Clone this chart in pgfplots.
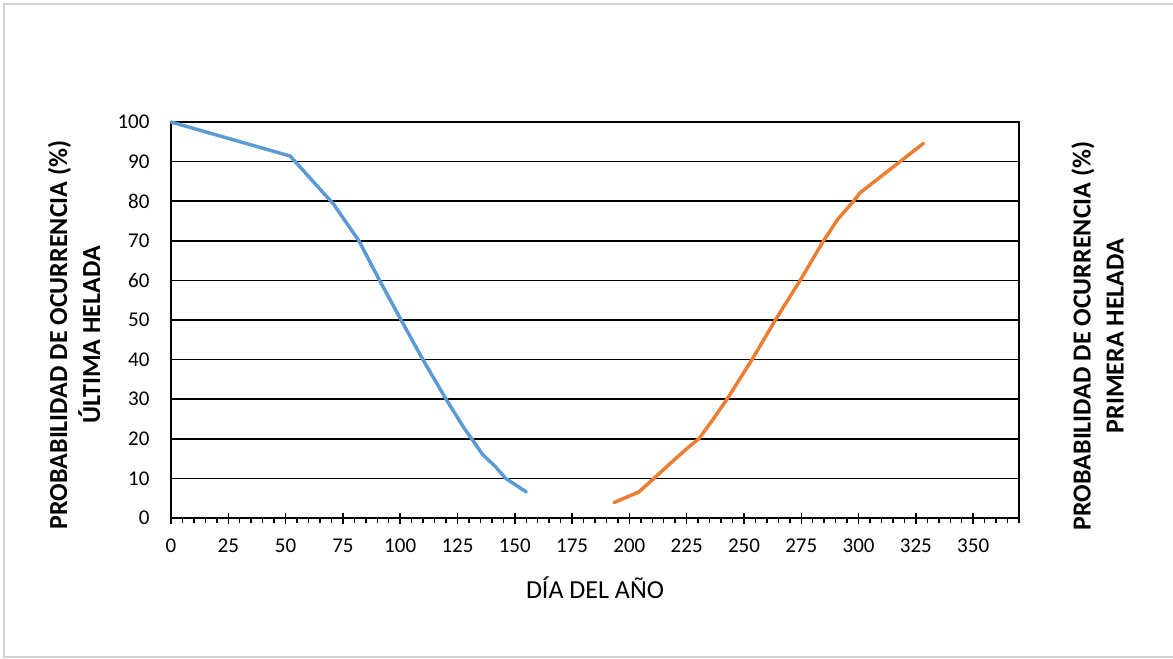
\documentclass[border=0pt]{standalone}
\usepackage{pgfplots}
\pgfplotsset{compat=1.18}
\usepackage{fontspec}
\setmainfont{Carlito}
\definecolor{cblue}{RGB}{91,155,213}
\definecolor{corange}{RGB}{237,125,49}
\begin{document}
\begin{tikzpicture}
\useasboundingbox (-128.25pt,-105pt) rectangle (751.5pt,388.5pt);
\draw[black!18, line width=1.2pt] (751.5pt,-104.25pt) -- (-125.25pt,-104.25pt) -- (-125.25pt,385.5pt) -- (751.5pt,385.5pt);
\begin{axis}[
  at={(0pt,0pt)}, anchor=south west,
  scale only axis, width=636pt, height=297pt,
  xmin=0, xmax=370, ymin=0, ymax=100,
  xtick={0,25,...,350}, ytick={0,10,...,100},
  minor xtick={0,5,...,370},
  xtick pos=bottom, ytick pos=left,
  ymajorgrids,
  grid style={black, line width=1.2pt},
  axis line style={black, line width=1.4pt},
  tick align=center,
  major tick length=8.25pt,
  minor tick length=4pt,
  major x tick style={black, line width=1.1pt},
  minor x tick style={black, line width=1.1pt, yshift=-2pt},
  ytick style={draw=none},
  /pgf/number format/assume math mode=true,
  tick label style={font=\fontsize{15.75}{18}\selectfont},
  x tick label style={yshift=-8pt},
  y tick label style={xshift=-8.5pt},
  clip=false,
]
\addplot[cblue, line width=2.6pt, line join=round, line cap=round] coordinates {
(0,100) (52,91.4) (71,79.2) (76,75) (82,70) (91,60) (100.4,50) (109.9,40) (120,30) (128,22.6) (131.2,20) (136,16) (141.5,13) (146,10) (155,6.6)
};
\addplot[corange, line width=2.6pt, line join=round, line cap=round] coordinates {
(193.3,3.9) (204.2,6.6) (210.7,10) (219.4,14.6) (226,18) (230.3,20) (236,24.5) (242.6,30) (253.5,40) (263.7,50) (274.5,60) (284.7,70) (291,75.5) (297.8,80) (300.6,82.1) (318.1,90) (328.3,94.6)
};
\end{axis}
\node[rotate=90, align=center, font=\fontsize{19.5}{24.75}\selectfont\bfseries] at (-72.75pt,137.25pt) {PROBABILIDAD DE OCURRENCIA (\%)\\ÚLTIMA HELADA};
\node[rotate=90, align=center, font=\fontsize{19.5}{24.75}\selectfont\bfseries] at (694.9pt,136.5pt) {PROBABILIDAD DE OCURRENCIA (\%)\\PRIMERA HELADA};
\node[font=\fontsize{19.5}{24}\selectfont] at (318pt,-52.5pt) {DÍA DEL AÑO};
\end{tikzpicture}
\end{document}
